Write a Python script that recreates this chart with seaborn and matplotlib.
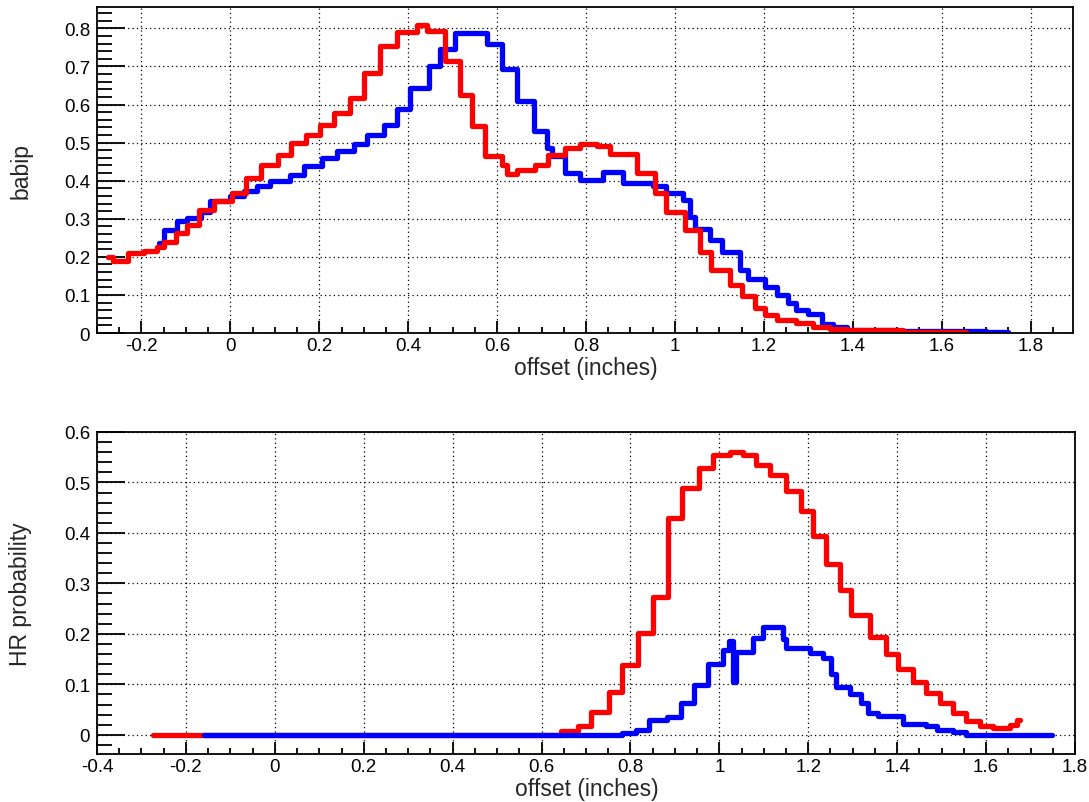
import matplotlib
matplotlib.use("Agg")
import matplotlib.pyplot as plt
import seaborn as sns
from matplotlib.ticker import MultipleLocator, FuncFormatter

# top panel: babip vs offset (step start x, level); last point closes the final step
babip_red_x = [-0.276, -0.265, -0.231, -0.194, -0.164, -0.149, -0.123, -0.097, -0.070, -0.037,
               0.004, 0.034, 0.068, 0.106, 0.136, 0.169, 0.202, 0.232, 0.270, 0.300,
               0.337, 0.375, 0.419, 0.442, 0.483, 0.517, 0.543, 0.573, 0.611, 0.622,
               0.644, 0.685, 0.715, 0.753, 0.787, 0.824, 0.854, 0.914, 0.955, 0.981,
               1.022, 1.056, 1.082, 1.124, 1.150, 1.180, 1.202, 1.229, 1.273, 1.311,
               1.348, 1.386, 1.512, 1.655]
babip_red_y = [0.200, 0.190, 0.210, 0.216, 0.227, 0.240, 0.262, 0.284, 0.324, 0.348,
               0.369, 0.407, 0.442, 0.468, 0.499, 0.521, 0.545, 0.578, 0.618, 0.683,
               0.754, 0.791, 0.810, 0.793, 0.714, 0.626, 0.543, 0.466, 0.440, 0.418,
               0.427, 0.442, 0.468, 0.486, 0.497, 0.490, 0.470, 0.420, 0.369, 0.319,
               0.271, 0.214, 0.166, 0.126, 0.096, 0.065, 0.047, 0.034, 0.026, 0.017,
               0.011, 0.008, 0.004, 0.004]

babip_blue_x = [-0.160, -0.150, -0.120, -0.097, -0.067, -0.045, 0.000, 0.030, 0.060, 0.090,
                0.135, 0.165, 0.206, 0.240, 0.277, 0.307, 0.345, 0.375, 0.404, 0.446,
                0.472, 0.506, 0.577, 0.611, 0.644, 0.682, 0.712, 0.723, 0.753, 0.787,
                0.839, 0.884, 0.951, 0.981, 1.019, 1.034, 1.045, 1.079, 1.105, 1.146,
                1.165, 1.202, 1.229, 1.255, 1.273, 1.300, 1.330, 1.356, 1.386, 1.500,
                1.700, 1.749]
babip_blue_y = [0.236, 0.271, 0.293, 0.302, 0.319, 0.346, 0.359, 0.372, 0.385, 0.398,
                0.416, 0.438, 0.460, 0.477, 0.497, 0.521, 0.545, 0.587, 0.644, 0.701,
                0.745, 0.787, 0.760, 0.692, 0.609, 0.530, 0.487, 0.464, 0.420, 0.403,
                0.424, 0.394, 0.385, 0.369, 0.350, 0.306, 0.273, 0.245, 0.214, 0.166,
                0.143, 0.122, 0.100, 0.078, 0.061, 0.049, 0.025, 0.017, 0.008, 0.005,
                0.003, 0.003]

# bottom panel: HR probability vs offset
hr_red_x = [-0.275, 0.643, 0.681, 0.711, 0.752, 0.782, 0.816, 0.850, 0.885, 0.917,
            0.955, 0.985, 1.023, 1.053, 1.083, 1.113, 1.150, 1.184, 1.210, 1.241,
            1.271, 1.297, 1.338, 1.376, 1.402, 1.436, 1.466, 1.496, 1.526, 1.556,
            1.586, 1.616, 1.654, 1.669, 1.676]
hr_red_y = [0.000, 0.007, 0.018, 0.046, 0.084, 0.138, 0.202, 0.273, 0.430, 0.489,
            0.529, 0.555, 0.560, 0.554, 0.535, 0.514, 0.483, 0.443, 0.394, 0.338,
            0.286, 0.237, 0.194, 0.161, 0.131, 0.105, 0.082, 0.064, 0.043, 0.027,
            0.017, 0.013, 0.020, 0.029, 0.029]

hr_blue_x = [-0.160, 0.782, 0.812, 0.842, 0.883, 0.914, 0.944, 0.974, 1.008, 1.021,
             1.031, 1.038, 1.075, 1.098, 1.143, 1.150, 1.203, 1.233, 1.252, 1.263,
             1.293, 1.319, 1.334, 1.357, 1.413, 1.466, 1.489, 1.526, 1.556, 1.748]
hr_blue_y = [0.000, 0.004, 0.010, 0.029, 0.036, 0.063, 0.099, 0.141, 0.168, 0.186,
             0.105, 0.164, 0.191, 0.214, 0.190, 0.171, 0.162, 0.153, 0.120, 0.095,
             0.081, 0.064, 0.044, 0.038, 0.022, 0.017, 0.010, 0.005, 0.000, 0.000]

sns.set_theme(style="white")
plt.rcParams['font.family'] = ['Liberation Sans', 'DejaVu Sans']

fig = plt.figure(figsize=(10.89, 8.03), dpi=100)
ax1 = fig.add_axes([0.0891, 0.584, 0.896, 0.406])
ax2 = fig.add_axes([0.0891, 0.0598, 0.898, 0.401])


def style_axis(ax, ylabel):
    ax.set_axisbelow(True)
    ax.xaxis.set_major_locator(MultipleLocator(0.2))
    ax.xaxis.set_minor_locator(MultipleLocator(0.05))
    ax.yaxis.set_major_locator(MultipleLocator(0.1))
    ax.yaxis.set_minor_locator(MultipleLocator(0.02))
    fmt = FuncFormatter(lambda v, p: f"{round(v, 6):g}")
    ax.xaxis.set_major_formatter(fmt)
    ax.yaxis.set_major_formatter(fmt)
    ax.grid(True, which='major', color='black', linestyle=(0, (1, 2.5)), linewidth=0.9)
    ax.tick_params(axis='both', which='both', direction='in', colors='black',
                   labelsize=13.5, left=True, bottom=True, top=False, right=False, width=1.3)
    ax.tick_params(axis='y', which='major', length=20, pad=5)
    ax.tick_params(axis='y', which='minor', length=11)
    ax.tick_params(axis='x', which='major', length=9, pad=3)
    ax.tick_params(axis='x', which='minor', length=4.5)
    for s in ax.spines.values():
        s.set_color('black')
        s.set_linewidth(1.3)
    ax.set_xlabel("offset (inches)", fontsize=16.5)
    ax.set_ylabel(ylabel, fontsize=16.5)
    ax.yaxis.set_label_coords(-0.078, 0.5)
    ax.yaxis.label.set_va('center')


# top panel
sns.lineplot(x=babip_blue_x, y=babip_blue_y, ax=ax1, color='#0000ff', lw=3.8,
             drawstyle='steps-post', estimator=None, sort=False)
sns.lineplot(x=babip_red_x, y=babip_red_y, ax=ax1, color='#ff0000', lw=3.8,
             drawstyle='steps-post', estimator=None, sort=False)
ax1.set_xlim(-0.3, 1.895)
ax1.set_ylim(0, 0.856)
style_axis(ax1, "babip")
ax1.xaxis.set_label_coords(0.501, -0.106)
ax1.xaxis.label.set_va('center')

# bottom panel
sns.lineplot(x=hr_red_x, y=hr_red_y, ax=ax2, color='#ff0000', lw=3.8,
             drawstyle='steps-post', estimator=None, sort=False)
sns.lineplot(x=hr_blue_x, y=hr_blue_y, ax=ax2, color='#0000ff', lw=3.8,
             drawstyle='steps-post', estimator=None, sort=False)
ax2.set_xlim(-0.4, 1.8)
ax2.set_ylim(-0.038, 0.6)
style_axis(ax2, "HR probability")
ax2.xaxis.set_label_coords(0.501, -0.143)
ax2.xaxis.label.set_va('bottom')

fig.savefig("out.png", dpi=100)
